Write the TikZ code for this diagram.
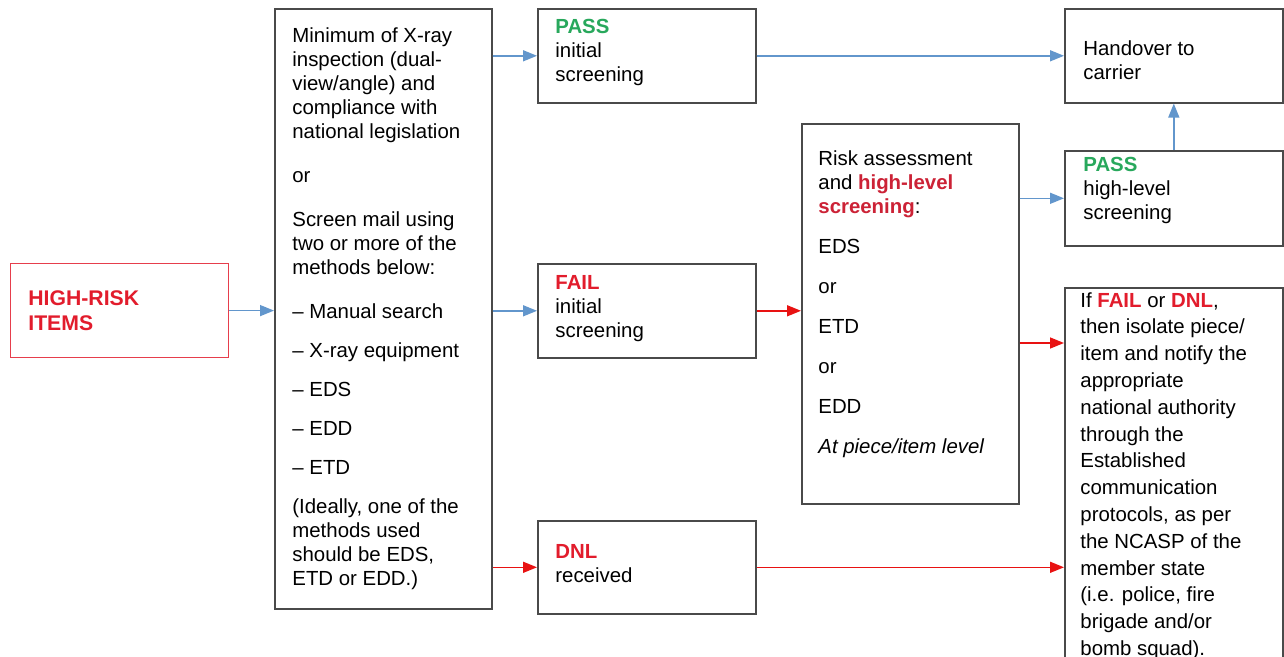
\documentclass[tikz,border=0pt]{standalone}
\usepackage{fontspec}
\setmainfont{Liberation Sans}
\usetikzlibrary{positioning}
\usetikzlibrary{arrows.meta}

\definecolor{passgreen}{RGB}{40,168,92}
\definecolor{failred}{RGB}{226,28,44}
\definecolor{hlred}{RGB}{204,34,54}
\definecolor{flowblue}{RGB}{98,150,204}
\definecolor{flowred}{RGB}{232,18,18}
\definecolor{boxgray}{RGB}{74,74,74}

\newcommand{\password}{\textcolor{passgreen}{\bfseries PASS}}
\newcommand{\failword}{\textcolor{failred}{\bfseries FAIL}}
\newcommand{\dnlword}{\textcolor{failred}{\bfseries DNL}}
\newcommand{\hlword}[1]{\textcolor{hlred}{\bfseries #1}}

\begin{document}
\begin{tikzpicture}[%
  >={Triangle[length=7pt,width=5.5pt]},
  x=0.5pt, y=-0.5pt,
  box/.style={draw=boxgray,line width=0.8pt,anchor=north west,inner sep=0pt},
  txt/.style={anchor=north west,align=left,inner sep=0pt,
    font=\fontsize{10.2}{12}\selectfont},
  blueflow/.style={->,draw=flowblue,fill=flowblue,line width=0.75pt},
  redflow/.style={->,draw=flowred,fill=flowred,line width=0.75pt},
  % yscale=0.8,
]

  \useasboundingbox[fill=white] (0,0) rectangle (1284,657);

  \node[box,draw=failred!85,line width=0.6pt,minimum width=109pt,minimum height=47pt] (hr) at (10,263) {};
  \node[box,minimum width=108.5pt,minimum height=300pt] (big) at (274,8) {};
  \node[box,minimum width=109pt,minimum height=47pt] (passi) at (537,8) {};
  \node[box,minimum width=109pt,minimum height=47pt] (faili) at (537,263) {};
  \node[box,minimum width=109pt,minimum height=46.5pt] (dnl) at (537,520) {};
  \node[box,minimum width=108.5pt,minimum height=190pt] (risk) at (801,123) {};
  \node[box,minimum width=109pt,minimum height=47pt] (hand) at (1064,8) {};
  \node[box,minimum width=109pt,minimum height=47.5pt] (passh) at (1064,150) {};
  \node[box,minimum width=109pt,minimum height=192pt] (final) at (1064,287) {};

  \node[txt,anchor=west,text=failred,font=\bfseries\fontsize{10.6}{12.5}\selectfont]
    (hrlbl) at ([xshift=9pt]hr.west) {HIGH-RISK\\ITEMS};

  \node[txt] (biglbl) at (292,27) {Minimum of X-ray\\
    inspection (dual-\\
    view/angle) and\\
    compliance with\\
    national legislation\\[10pt]
    or\\[10pt]
    Screen mail using\\
    two or more of the\\
    methods below:\\[10pt]
    -- Manual search\\[7.5pt]
    -- X-ray equipment\\[7.5pt]
    -- EDS\\[7.5pt]
    -- EDD\\[7.5pt]
    -- ETD\\[7.5pt]
    (Ideally, one of the\\
    methods used\\
    should be EDS,\\
    ETD or EDD.)};

  \node[txt] (passilbl) at (555,19) {\password\\initial\\screening};
  \node[txt] (faililbl) at (555,275) {\failword\\initial\\screening};
  \node[txt] (dnllbl) at (555,544) {\dnlword\\received};

  \node[txt] (risklbl) at (818,150) {Risk assessment\\
    and \hlword{high-level}\\
    \hlword{screening}:\\[8pt]
    EDS\\[8pt]
    or\\[8pt]
    ETD\\[8pt]
    or\\[8pt]
    EDD\\[8pt]
    \textit{At piece/item level}};

  \node[txt] (handlbl) at (1083,40) {Handover to\\carrier};
  \node[txt] (passhlbl) at (1083,157) {\password\\high-level\\screening};

  \node[txt,font=\fontsize{10.2}{13.4}\selectfont] (finallbl) at (1080,292) {If \failword{} or \dnlword,\\
    then isolate piece/\\
    item and notify the\\
    appropriate\\
    national authority\\
    through the\\
    Established\\
    communication\\
    protocols, as per\\
    the NCASP of the\\
    member state\\
    (i.e. police, fire\\
    brigade and/or\\
    bomb squad).};

  \coordinate (finin) at ([yshift=-28pt]final.north west);

  \draw[blueflow] (hr.east) -- (hr.east -| big.west);
  \draw[blueflow] (big.east |- passi.west) -- (passi.west);
  \draw[blueflow] (big.east |- faili.west) -- (faili.west);
  \draw[redflow] (big.east |- dnl.west) -- (dnl.west);

  \draw[blueflow] (passi.east) -- (hand.west);
  \draw[redflow] (faili.east) -- (faili.east -| risk.west);
  \draw[redflow] (dnl.east) -- (dnl.east -| final.west);

  \draw[blueflow] (risk.east |- passh.west) -- (passh.west);
  \draw[redflow] (risk.east |- finin) -- (finin);
  \draw[blueflow] (passh.north) -- (hand.south);

\end{tikzpicture}
\end{document}
